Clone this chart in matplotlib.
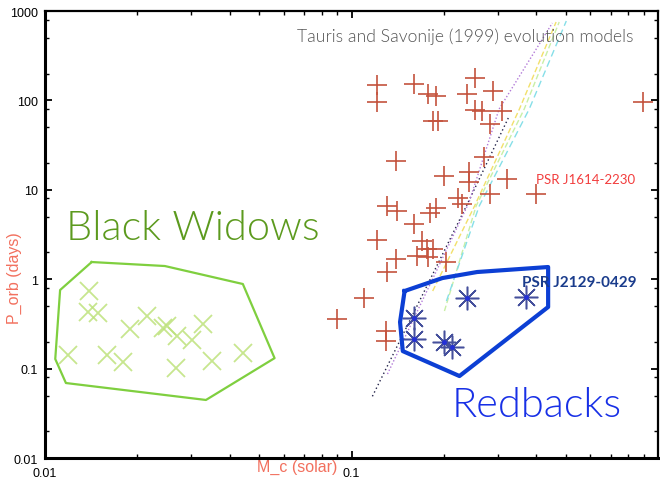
import matplotlib
matplotlib.use("Agg")
import matplotlib.pyplot as plt
from matplotlib.ticker import LogLocator, NullFormatter, FixedLocator, FixedFormatter

# millisecond pulsars with He white dwarf companions (red +)
msp_mc = [0.121, 0.121, 0.160, 0.178, 0.189, 0.185, 0.191, 0.252, 0.239, 0.290,
          0.252, 0.267, 0.282, 0.310, 0.894, 0.140, 0.201, 0.241, 0.241, 0.271,
          0.322, 0.282, 0.401, 0.131, 0.141, 0.222, 0.230, 0.188, 0.181, 0.160,
          0.121, 0.170, 0.176, 0.164, 0.177, 0.184, 0.204, 0.140, 0.131, 0.110,
          0.090, 0.130, 0.130]
msp_pb = [148.7, 95.9, 152.0, 117.9, 112.0, 58.8, 58.8, 178.0, 117.9, 127.4,
          78.1, 76.1, 54.5, 76.1, 95.9, 21.0, 14.3, 15.8, 12.2, 23.3,
          13.2, 8.97, 8.97, 6.59, 5.79, 8.09, 6.94, 6.26, 5.50, 4.14,
          2.74, 2.67, 2.18, 1.82, 1.77, 2.18, 1.56, 1.68, 1.20, 0.616,
          0.359, 0.263, 0.2035]

# black widows (green x)
bw_mc = [0.0139, 0.0138, 0.0149, 0.0119, 0.0159, 0.0180, 0.0189, 0.0215, 0.0242,
         0.0250, 0.0269, 0.0301, 0.0327, 0.0267, 0.0350, 0.0442]
bw_pb = [0.738, 0.430, 0.419, 0.142, 0.142, 0.119, 0.277, 0.388, 0.285,
         0.300, 0.232, 0.209, 0.315, 0.102, 0.122, 0.149]

# redbacks (blue asterisks)
rb_mc = [0.239, 0.372, 0.160, 0.160, 0.201, 0.212]
rb_pb = [0.616, 0.632, 0.368, 0.214, 0.198, 0.174]

# outlines drawn around the two groups
bw_hull_mc = [0.0142, 0.0246, 0.0442, 0.0561, 0.0335, 0.0117, 0.0108, 0.0112, 0.0142]
bw_hull_pb = [1.557, 1.405, 0.884, 0.131, 0.0446, 0.069, 0.128, 0.757, 1.557]
rb_hull_mc = [0.149, 0.198, 0.257, 0.438, 0.438, 0.225, 0.147, 0.144, 0.149]
rb_hull_pb = [0.738, 1.031, 1.204, 1.369, 0.489, 0.0826, 0.157, 0.332, 0.738]

# Tauris & Savonije (1999) model tracks
models = [
    ([0.117, 0.237, 0.327], [0.049, 6.59, 66.9], "#23234a", (0, (1, 2))),
    ([0.131, 0.242, 0.303, 0.452], [0.087, 7.30, 80.1, 734.0], "#b27ad8", (0, (1, 1.5))),
    ([0.184, 0.252, 0.353, 0.465], [0.738, 6.59, 80.1, 753.0], "#f2e06a", (0, (4, 2))),
    ([0.201, 0.255, 0.366, 0.476], [0.441, 6.59, 80.1, 753.0], "#c9efa6", (0, (4, 2))),
    ([0.204, 0.261, 0.380, 0.502], [0.570, 6.59, 80.1, 773.0], "#86dfe8", (0, (5, 3))),
]

fig = plt.figure(figsize=(6.6, 4.81), dpi=100)
ax = fig.add_axes([0.0682, 0.0457, 0.9288, 0.9293])
ax.set_xscale("log")
ax.set_yscale("log")
ax.set_xlim(0.01, 1.0)
ax.set_ylim(0.01, 1000)

for mc, pb, col, ls in models:
    ax.plot(mc, pb, color=col, linestyle=ls, linewidth=1.0, zorder=2)

ax.plot(msp_mc, msp_pb, linestyle="none", marker="+", markersize=14,
        markeredgewidth=1.2, color="#c4533d", zorder=3)
ax.plot(bw_mc, bw_pb, linestyle="none", marker="x", markersize=13,
        markeredgewidth=1.3, color="#bde27a", alpha=0.85, zorder=3)
ax.plot(rb_mc, rb_pb, linestyle="none", marker=(8, 2, 0), markersize=17,
        markeredgewidth=1.1, color="#45509c", zorder=3)
ax.plot(rb_mc, rb_pb, linestyle="none", marker="o", markersize=2.5,
        color="#2430d8", zorder=4)

ax.plot(bw_hull_mc, bw_hull_pb, color="#7fcf3f", linewidth=1.6, zorder=3)
ax.plot(rb_hull_mc, rb_hull_pb, color="#0c3fd4", linewidth=3.0, zorder=3)

txt = dict(family=["Lato", "DejaVu Sans"], transform=ax.transAxes,
           ha="center", va="center")
ax.text(0.685, 0.944, "Tauris and Savonije (1999) evolution models",
        fontsize=12.7, color="#555555", fontweight=300, **txt)
ax.text(0.2414, 0.5168, "Black Widows", fontsize=30, color="#5c9a1e",
        fontweight=300, **txt)
ax.text(0.8026, 0.1208, "Redbacks", fontsize=30, color="#1830e6",
        fontweight=300, **txt)
ax.text(0.871, 0.3937, "PSR J2129-0429", fontsize=11, color="#1a3c8c",
        fontweight="bold", **txt)
ax.text(0.8817, 0.624, "PSR J1614-2230", fontsize=9.5, color="#f23d3d", **txt)

ax.set_xlabel("M_c (solar)", family="Liberation Sans", fontsize=11.5,
              color="#f2705e", va="top")
ax.xaxis.set_label_coords(0.411, -0.001)
ax.set_ylabel("P_orb (days)", family="Liberation Sans", fontsize=11.5,
              color="#f2705e")
ax.yaxis.set_label_coords(-0.038, 0.405)

ax.xaxis.set_major_locator(FixedLocator([0.01, 0.1]))
ax.xaxis.set_major_formatter(FixedFormatter(["0.01", "0.1"]))
ax.xaxis.set_minor_locator(LogLocator(base=10, subs=range(2, 10)))
ax.xaxis.set_minor_formatter(NullFormatter())
yt = [0.01, 0.1, 1, 10, 100, 1000]
ax.yaxis.set_major_locator(FixedLocator(yt))
ax.yaxis.set_major_formatter(FixedFormatter(["0.01", "0.1", "1", "10", "100", "1000"]))
ax.yaxis.set_minor_locator(LogLocator(base=10, subs=(2, 5, 8)))
ax.yaxis.set_minor_formatter(NullFormatter())

ax.tick_params(which="both", direction="in", top=True, right=True,
               labelsize=9, labelfontfamily="Liberation Sans")
ax.tick_params(which="major", length=5, width=1.3, pad=5)
ax.tick_params(axis="x", which="major", pad=6.5)
ax.tick_params(which="minor", length=3, width=1.0)
for sp in ax.spines.values():
    sp.set_linewidth(1.6)
ax.spines["left"].set_linewidth(2.2)
ax.spines["bottom"].set_linewidth(2.2)

fig.savefig("out.png", dpi=100)
